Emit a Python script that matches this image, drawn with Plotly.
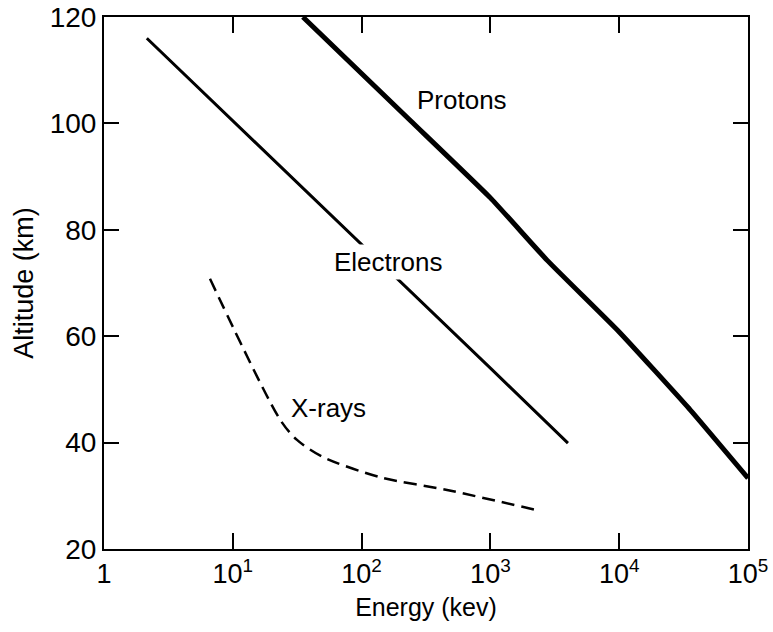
import math
import plotly.graph_objects as go

# Penetration altitude vs. particle energy
proton_energy = [35, 240, 1000, 2750, 10000, 34000, 100000]
proton_alt = [120, 100.5, 86, 74.3, 60.8, 46.7, 33.3]

electron_energy = [2.15, 10, 100, 1000, 4000]
electron_alt = [116, 100.5, 77.3, 54.0, 39.9]

xray_energy = [6.65, 23.3, 31.5, 50, 139, 461, 2300]
xray_alt = [70.8, 44.3, 40.5, 37.3, 33.5, 31.1, 27.3]

x_tickvals = [1, 10, 100, 1000, 10000, 100000]
x_ticktext = ["1", "10<sup>1</sup>", "10<sup>2</sup>", "10<sup>3</sup>",
              "10<sup>4</sup>", "10<sup>5</sup>"]
y_tickvals = [20, 40, 60, 80, 100, 120]

# curve labels: text, energy (keV), altitude (km)
curve_labels = [("Protons", 600, 104.4), ("Electrons", 160, 74.0), ("X-rays", 55, 46.5)]

FONT = "Liberation Sans"

fig = go.Figure()
fig.add_trace(go.Scatter(x=proton_energy, y=proton_alt, mode="lines",
                         line=dict(color="black", width=5, shape="spline", smoothing=0.4)))
fig.add_trace(go.Scatter(x=electron_energy, y=electron_alt, mode="lines",
                         line=dict(color="black", width=3)))
fig.add_trace(go.Scatter(x=xray_energy, y=xray_alt, mode="lines",
                         line=dict(color="black", width=2.5, dash="13px,7px",
                                   shape="spline", smoothing=0.8)))

for text, x, y in curve_labels:
    # annotation x positions on a log axis are given in log10 units
    fig.add_annotation(x=math.log10(x), y=y, xref="x", yref="y", text=text,
                       showarrow=False,
                       font=dict(family=FONT, size=26, color="black"),
                       bgcolor="white", borderpad=2)

fig.update_xaxes(type="log", range=[0, 5], tickvals=x_tickvals, ticktext=x_ticktext,
                 automargin=False,
                 ticks="inside", ticklen=16, tickwidth=1.5, tickcolor="black",
                 showline=True, linecolor="black", linewidth=2, mirror="ticks",
                 showgrid=False, zeroline=False,
                 tickfont=dict(family=FONT, size=27, color="black"),
                 title=dict(text="Energy (kev)", font=dict(family=FONT, size=25, color="black"),
                            standoff=10))
fig.update_yaxes(range=[20, 120], tickvals=y_tickvals, automargin=False,
                 ticks="inside", ticklen=15, tickwidth=1.5, tickcolor="black",
                 showline=True, linecolor="black", linewidth=2, mirror="ticks",
                 showgrid=False, zeroline=False,
                 tickfont=dict(family=FONT, size=28, color="black"),
                 title=dict(text="Altitude (km)", font=dict(family=FONT, size=27, color="black"),
                            standoff=8))

fig.update_layout(width=773, height=632, showlegend=False,
                  margin=dict(l=104, r=25, t=17, b=83, pad=0),
                  plot_bgcolor="white", paper_bgcolor="white")

fig.write_html("out.html")
